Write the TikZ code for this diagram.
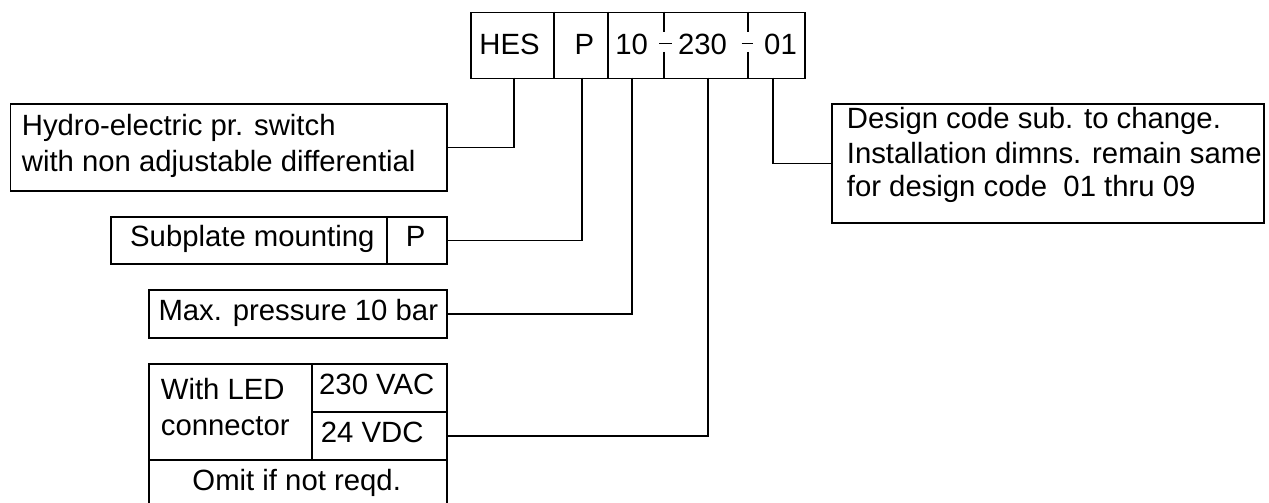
\documentclass[tikz,border=0pt]{standalone}
\usepackage{fontspec}
\setmainfont{Liberation Sans}
\begin{document}
\begin{tikzpicture}[x=1pt,y=-1pt,
  box/.style={draw, line width=1.8pt, rectangle, inner sep=0pt, anchor=north west},
  txt/.style={inner sep=0pt, font=\fontsize{29.3}{36}\selectfont},
  wire/.style={line width=1.8pt},
  seg/.style={line width=1.8pt}]
\useasboundingbox (0,0) rectangle (1269,503);
\begin{scope}
\clip (0,0) rectangle (1269,503);
% code box
\node[box, minimum width=334pt, minimum height=66pt] (code) at (470.3,11.7) {};
\draw[seg] (554.3,11.7) -- (554.3,77.7);
\draw[seg] (608,11.7) -- (608,77.7);
\draw[seg] (664,11.7) -- (664,32) (659,43.5) -- (671.7,43.5) (664,52) -- (664,77.7);
\draw[seg] (747.7,11.7) -- (747.7,32) (741.7,43.5) -- (753.3,43.5) (747.7,52) -- (747.7,77.7);
\node[txt, anchor=base] (tHES) at (509.5,54.3) {HES};
\node[txt, anchor=base] (tP) at (584.5,54.3) {P};
\node[txt, anchor=base] (t10) at (631.7,54.3) {10};
\node[txt, anchor=base] (t230) at (702.5,54.3) {230};
\node[txt, anchor=base] (t01) at (780.5,54.3) {01};
\coordinate (s1) at (514,77.7);
\coordinate (s2) at (582.3,77.7);
\coordinate (s3) at (632.3,77.7);
\coordinate (s4) at (707.7,77.7);
\coordinate (s5) at (773.3,77.7);
% hydro box
\node[box, minimum width=436.2pt, minimum height=86.7pt] (hydro) at (9.5,103.3) {};
\node[txt, anchor=base west] (h1) at (21.7,135.7) {Hydro-electric pr. switch};
\node[txt, anchor=base west] (h2) at (21.7,171.7) {with non adjustable differential};
% subplate
\node[box, minimum width=275.4pt, minimum height=47.3pt] (subt) at (110.3,216) {};
\node[box, minimum width=60pt, minimum height=47.3pt] (subp) at (385.7,216) {};
\node[txt, anchor=base west] (st) at (130,246.7) {Subplate mounting};
\node[txt, anchor=base] (sp) at (415.7,246.7) {P};
% max pressure
\node[box, minimum width=298pt, minimum height=48pt] (maxp) at (147.7,289.3) {};
\node[txt, anchor=base west] (mt) at (158.3,320) {Max. pressure 10 bar};
% LED
\node[box, minimum width=163.3pt, minimum height=96.6pt] (led) at (147.7,362.7) {};
\node[box, minimum width=134.7pt, minimum height=48pt] (vac) at (311,362.7) {};
\node[box, minimum width=134.7pt, minimum height=48.6pt] (vdc) at (311,410.7) {};
\node[box, minimum width=298pt, minimum height=52pt] (omit) at (147.7,459.3) {};
\node[txt, anchor=base west] (l1) at (160.7,399.3) {With LED};
\node[txt, anchor=base west] (l2) at (160.7,435.7) {connector};
\node[txt, anchor=base west] (v1) at (319,394.3) {230 VAC};
\node[txt, anchor=base west] (v2) at (320.7,442.3) {24 VDC};
\node[txt, anchor=base] (om) at (296.7,490) {Omit if not reqd.};
% design
\node[box, minimum width=432pt, minimum height=118.4pt] (design) at (830.7,103.3) {};
\node[txt, anchor=base west] (d1) at (846.7,128.3) {Design code sub. to change.};
\node[txt, anchor=base west] (d2) at (846.7,163.3) {Installation dimns. remain same};
\node[txt, anchor=base west] (d3) at (846.7,196.7) {for design code\ \ 01 thru 09};
% connectors
\draw[wire] (s1) |- (hydro.east);
\draw[wire] (s2) |- (subp.east);
\draw[wire] (s3) |- (maxp.east);
\draw[wire] (s4) |- (vdc.east);
\draw[wire] (s5) |- (design.west);
\end{scope}
\end{tikzpicture}
\end{document}
